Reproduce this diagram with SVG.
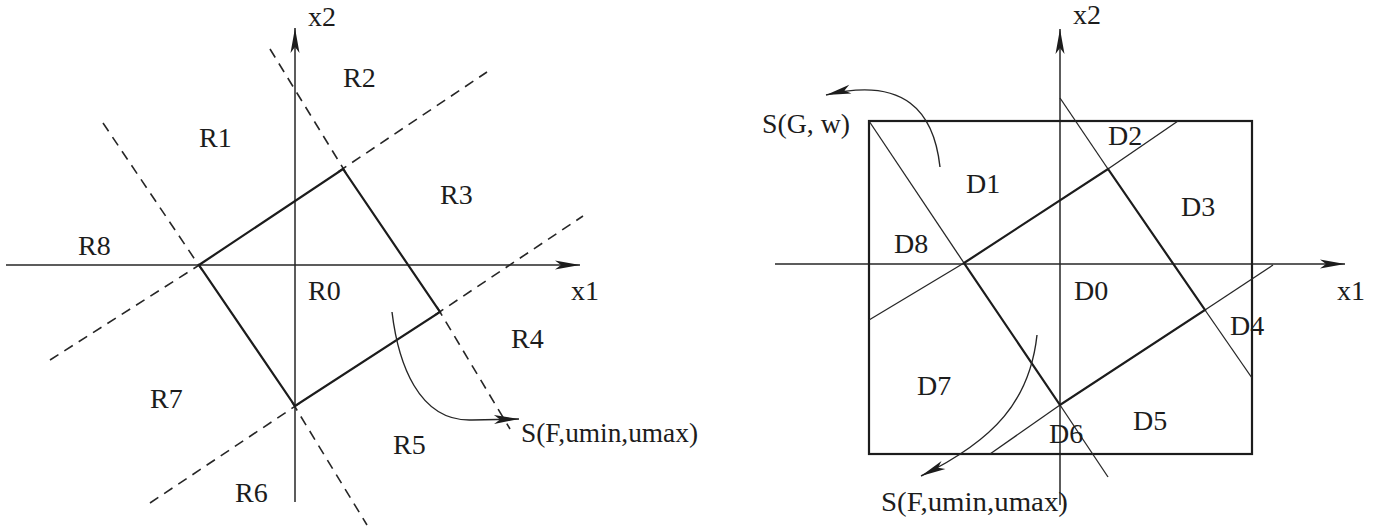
<svg xmlns="http://www.w3.org/2000/svg" width="1380" height="530" viewBox="0 0 1380 530">
<style>
.t{font-family:"Liberation Serif","Times New Roman",serif;font-size:28px;fill:#1c1c1c}
.ax{stroke:#262626;stroke-width:1.5;fill:none}
.thick{stroke:#1c1c1c;stroke-width:2.2;fill:none;stroke-linecap:round}
.thin{stroke:#262626;stroke-width:1.3;fill:none}
.dash{stroke:#262626;stroke-width:1.6;fill:none;stroke-dasharray:10 7}
.cur{stroke:#262626;stroke-width:1.4;fill:none}
</style>
<defs>
<marker id="ah" viewBox="-26 -6 28 12" refX="0" refY="0" markerWidth="28" markerHeight="12" markerUnits="userSpaceOnUse" orient="auto">
<path d="M0,0 L-25,-4.5 L-19,0 L-25,4.5 Z" fill="#1c1c1c"/>
</marker>
</defs>
<rect width="1380" height="530" fill="#ffffff"/>

<g id="left-panel">
  <g id="left-axes">
    <line class="ax" x1="6" y1="265" x2="580" y2="265" marker-end="url(#ah)"/>
    <line class="ax" x1="295" y1="502" x2="295" y2="28" marker-end="url(#ah)"/>
  </g>
  <g id="left-dashed">
    <line class="dash" x1="103" y1="123" x2="202" y2="270"/>
    <line class="dash" x1="292" y1="402" x2="367" y2="525"/>
    <line class="dash" x1="270" y1="49" x2="346" y2="173"/>
    <line class="dash" x1="437" y1="307" x2="510" y2="429"/>
    <line class="dash" x1="50" y1="360" x2="204" y2="262"/>
    <line class="dash" x1="338" y1="172" x2="487" y2="72"/>
    <line class="dash" x1="150" y1="503" x2="300" y2="403"/>
    <line class="dash" x1="435" y1="315" x2="583" y2="216"/>
  </g>
  <g id="R0-square">
    <polygon class="thick" points="199,265 343,169 440,312 295,406"/>
  </g>
  <g id="left-connector">
    <path class="cur" d="M392,312 C398,362 418,422 472,420 L519,419" marker-end="url(#ah)"/>
  </g>
  <g id="left-labels">
    <text class="t" x="308" y="26">x2</text>
    <text class="t" x="343" y="87">R2</text>
    <text class="t" x="199" y="147">R1</text>
    <text class="t" x="440" y="204">R3</text>
    <text class="t" x="78" y="255">R8</text>
    <text class="t" x="308" y="300">R0</text>
    <text class="t" x="571" y="300">x1</text>
    <text class="t" x="511" y="348">R4</text>
    <text class="t" x="150" y="408">R7</text>
    <text class="t" x="521" y="442" textLength="177" lengthAdjust="spacingAndGlyphs">S(F,umin,umax)</text>
    <text class="t" x="393" y="454">R5</text>
    <text class="t" x="235" y="502">R6</text>
  </g>
</g>

<g id="right-panel">
  <g id="right-axes">
    <line class="ax" x1="775" y1="264" x2="1345" y2="264" marker-end="url(#ah)"/>
    <line class="ax" x1="1060" y1="505" x2="1060" y2="29" marker-end="url(#ah)"/>
  </g>
  <g id="right-box">
    <rect x="869" y="121" width="383" height="333" fill="none" stroke="#1c1c1c" stroke-width="2.2"/>
  </g>
  <g id="right-thin-lines">
    <line class="thin" x1="869" y1="121" x2="964" y2="263"/>
    <line class="thin" x1="1060" y1="405" x2="1108" y2="477"/>
    <line class="thin" x1="869" y1="320" x2="964" y2="263"/>
    <line class="thin" x1="1108" y1="169" x2="1178" y2="121"/>
    <line class="thin" x1="1060" y1="98" x2="1108" y2="169"/>
    <line class="thin" x1="1205" y1="310" x2="1252" y2="378"/>
    <line class="thin" x1="990" y1="454" x2="1060" y2="405"/>
    <line class="thin" x1="1205" y1="310" x2="1273" y2="265"/>
  </g>
  <g id="D0-square">
    <polygon class="thick" points="964,263 1108,169 1205,310 1060,405"/>
  </g>
  <g id="right-connectors">
    <path class="cur" d="M940,167 C934,112 905,76 826,95" marker-end="url(#ah)"/>
    <path class="cur" d="M1037,335 C1030,400 995,440 921,476" marker-end="url(#ah)"/>
  </g>
  <g id="right-labels">
    <text class="t" x="1073" y="24">x2</text>
    <text class="t" x="762" y="133" textLength="88" lengthAdjust="spacingAndGlyphs">S(G, w)</text>
    <text class="t" x="1108" y="145">D2</text>
    <text class="t" x="966" y="193">D1</text>
    <text class="t" x="1181" y="216">D3</text>
    <text class="t" x="894" y="253">D8</text>
    <text class="t" x="1074" y="300">D0</text>
    <text class="t" x="1337" y="300">x1</text>
    <text class="t" x="1230" y="335">D4</text>
    <text class="t" x="917" y="395">D7</text>
    <text class="t" x="1133" y="430">D5</text>
    <text class="t" x="1049" y="443">D6</text>
    <text class="t" x="881" y="511" textLength="187" lengthAdjust="spacingAndGlyphs">S(F,umin,umax)</text>
  </g>
</g>
</svg>
